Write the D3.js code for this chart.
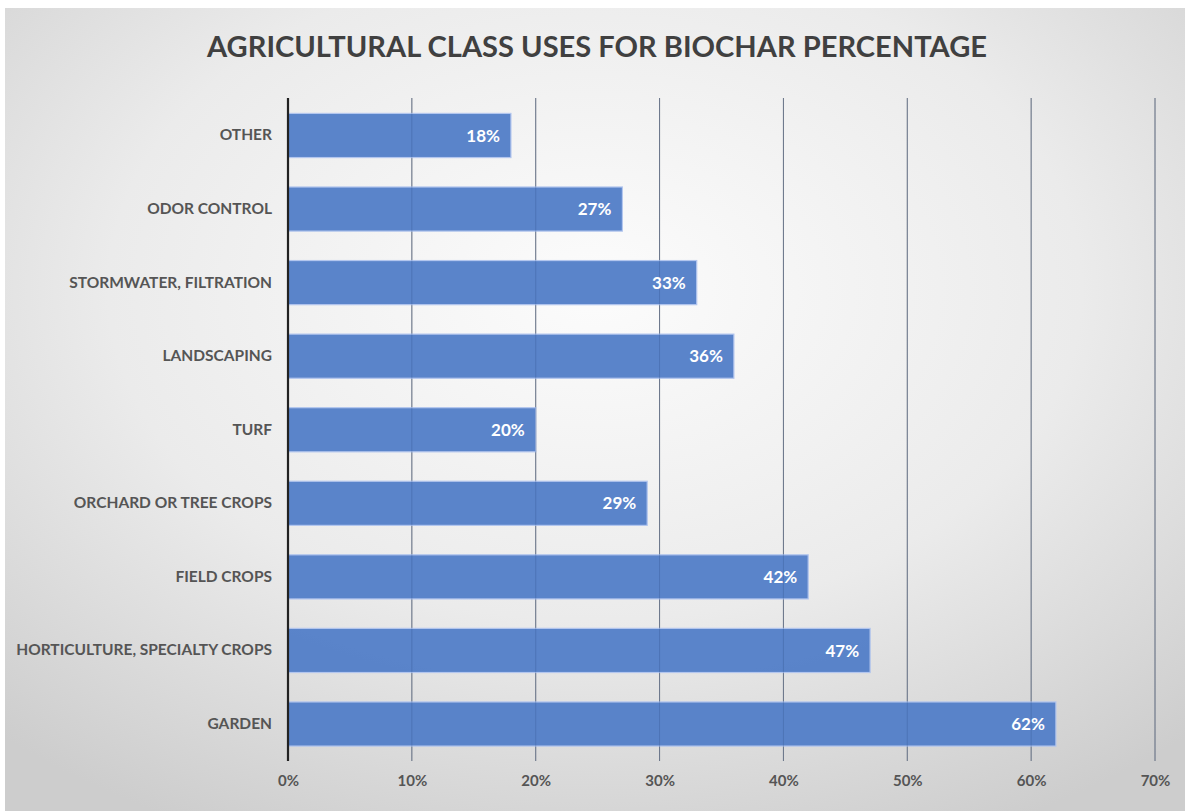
<!DOCTYPE html>
<html><head><meta charset="utf-8">
<script src="https://cdn.jsdelivr.net/npm/d3@7"></script>
<style>html,body{margin:0;padding:0;background:#fff;}svg{display:block;}</style>
</head><body>
<svg id="c" width="1185" height="811"></svg>
<script>
const categories = ["OTHER","ODOR CONTROL","STORMWATER, FILTRATION","LANDSCAPING","TURF","ORCHARD OR TREE CROPS","FIELD CROPS","HORTICULTURE, SPECIALTY CROPS","GARDEN"];
const values = [18,27,33,36,20,29,42,47,62];
const xTicks = [0,10,20,30,40,50,60,70];
const title = "AGRICULTURAL CLASS USES FOR BIOCHAR PERCENTAGE";

const svg = d3.select("#c");
const defs = svg.append("defs");
const g = defs.append("radialGradient").attr("id","bg").attr("cx","50%").attr("cy","35%").attr("r","75%");
g.append("stop").attr("offset","0%").attr("stop-color","#fcfcfc");
g.append("stop").attr("offset","55%").attr("stop-color","#ebebeb");
g.append("stop").attr("offset","100%").attr("stop-color","#cdcdcd");
svg.append("rect").attr("x",5).attr("y",8).attr("width",1180).attr("height",803).attr("fill","url(#bg)");

const x = d3.scaleLinear().domain([0,70]).range([288,1155]);
const y = d3.scaleBand().domain(categories).range([98.7,760.8]).paddingInner(0.4).paddingOuter(0.2);

const font = "Lato, 'Open Sans', sans-serif";

// gridlines
svg.append("g").selectAll("line").data(xTicks.slice(1)).join("line")
  .attr("x1",d=>x(d)).attr("x2",d=>x(d)).attr("y1",98).attr("y2",761)
  .attr("stroke","#808080").attr("stroke-width",1);

// bars
svg.append("g").selectAll("rect").data(values).join("rect")
  .attr("x",x(0)).attr("y",(d,i)=>y(categories[i]))
  .attr("width",d=>x(d)-x(0)).attr("height",y.bandwidth())
  .attr("fill","#5580c8").attr("fill-opacity",0.97).attr("stroke","#b3c6ee").attr("stroke-width",1.2);

// grid faintly over bars
svg.append("g").selectAll("line").data(xTicks.slice(1)).join("line")
  .attr("x1",d=>x(d)).attr("x2",d=>x(d)).attr("y1",98).attr("y2",761)
  .attr("stroke","#3d5f9a").attr("stroke-opacity",0.35).attr("stroke-width",1);

// axis line
svg.append("line").attr("x1",x(0)).attr("x2",x(0)).attr("y1",98).attr("y2",761)
  .attr("stroke","#222").attr("stroke-width",2.2);

// value labels
svg.append("g").selectAll("text").data(values).join("text")
  .attr("x",d=>x(d)-11).attr("y",(d,i)=>y(categories[i])+y.bandwidth()/2)
  .attr("dy","0.36em").attr("text-anchor","end")
  .attr("fill","#fff").attr("font-family",font).attr("font-weight","bold").attr("font-size",17)
  .text(d=>d+"%");

// category labels
const yAxis = d3.axisLeft(y).tickSize(0).tickPadding(16);
const ya = svg.append("g").attr("transform",`translate(${x(0)},0)`).call(yAxis);
ya.select(".domain").remove();
ya.selectAll("text").attr("font-family",font).attr("font-weight","bold").attr("font-size",15.5).attr("fill","#555");

// x axis labels
const xAxis = d3.axisBottom(x).tickValues(xTicks).tickFormat(d=>d+"%").tickSize(0).tickPadding(14);
const xa = svg.append("g").attr("transform","translate(0,761)").call(xAxis);
xa.select(".domain").remove();
xa.selectAll("text").attr("font-family",font).attr("font-weight","bold").attr("font-size",15).attr("fill","#555");

// title
svg.append("text").attr("x",597).attr("y",57).attr("text-anchor","middle")
  .attr("font-family",font).attr("font-weight","bold").attr("font-size",28).attr("fill","#404040")
  .attr("textLength",780).attr("lengthAdjust","spacingAndGlyphs")
  .text(title);
</script>
</body></html>
